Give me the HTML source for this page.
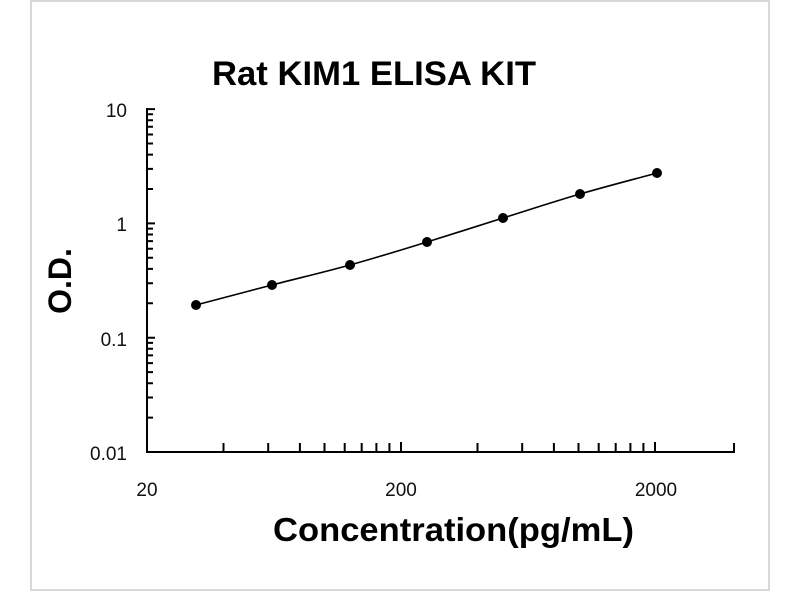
<!DOCTYPE html>
<html><head><meta charset="utf-8"><style>html,body{margin:0;padding:0;background:#fff}</style></head>
<body>
<svg id="s" width="800" height="600" xmlns="http://www.w3.org/2000/svg" font-family="Liberation Sans, sans-serif">
<rect x="31" y="1" width="738" height="589" fill="#fff" stroke="#ccc" stroke-width="1.5"/>
<text x="212" y="85" font-size="34" font-weight="bold" textLength="324" lengthAdjust="spacingAndGlyphs">Rat KIM1 ELISA KIT</text>
<text x="273" y="541" font-size="33" font-weight="bold" textLength="361" lengthAdjust="spacingAndGlyphs">Concentration(pg/mL)</text>
<text transform="translate(71,281) rotate(-90)" font-size="32" font-weight="bold" text-anchor="middle">O.D.</text>
<g font-size="19" text-anchor="end" fill="#111">
<text x="127" y="117">10</text><text x="127" y="231">1</text><text x="127" y="346">0.1</text><text x="127" y="460">0.01</text>
</g>
<g font-size="19" text-anchor="middle" fill="#111">
<text x="147" y="496">20</text><text x="401" y="496">200</text><text x="656" y="496">2000</text>
</g>
<g id="ax" stroke="#000" stroke-width="2" fill="none">
<path d="M147,108 V452 H734 V443"/>
</g>
<path id="curve" stroke="#000" stroke-width="1.6" fill="none"/>
<g id="pts"></g>
</svg>
<script>
var ax=document.getElementById('ax'),d='';
function Y(v){return 452-114.3*(Math.log10(v)+2);}
function X(v){return 147+254*Math.log10(v/20);}
[0.01,0.1,1].forEach(function(b){for(var k=1;k<=10;k++){var y=Y(b*k);d+='M147,'+y.toFixed(1)+' h'+(k==1||k==10?8:6);}});
[20,200].forEach(function(b){for(var k=2;k<=10;k++){var x=X(b*k);d+='M'+x.toFixed(1)+',452 v-'+(k==10?10:9);}});
var p=document.createElementNS('http://www.w3.org/2000/svg','path');p.setAttribute('d',d);ax.appendChild(p);
var P=[[196,305],[272,285],[350,265],[427,242],[503,218],[580,194],[657,173]];
var c='M'+P[0];
for(var i=0;i<P.length-1;i++){var p0=P[i-1]||P[i],p1=P[i],p2=P[i+1],p3=P[i+2]||p2;
c+=' C'+(p1[0]+(p2[0]-p0[0])/6)+','+(p1[1]+(p2[1]-p0[1])/6)+' '+(p2[0]-(p3[0]-p1[0])/6)+','+(p2[1]-(p3[1]-p1[1])/6)+' '+p2[0]+','+p2[1];}
document.getElementById('curve').setAttribute('d',c);
var g=document.getElementById('pts');
P.forEach(function(q){var e=document.createElementNS('http://www.w3.org/2000/svg','circle');e.setAttribute('cx',q[0]);e.setAttribute('cy',q[1]);e.setAttribute('r',5);g.appendChild(e);});
</script>
</body></html>
